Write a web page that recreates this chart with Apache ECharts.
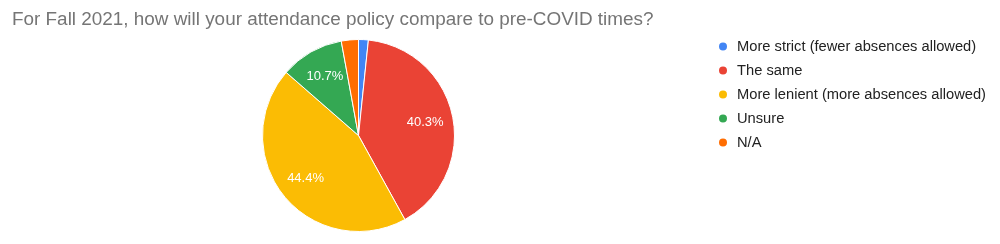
<!DOCTYPE html>
<html><head><meta charset="utf-8">
<script src="https://cdn.jsdelivr.net/npm/echarts@6/dist/echarts.min.js"></script>
<style>html,body{margin:0;padding:0;background:#fff}#c{width:1000px;height:244px}</style>
</head><body><div id="c"></div>
<script>
const titleText = "For Fall 2021, how will your attendance policy compare to pre-COVID times?";
const categories = ["More strict (fewer absences allowed)", "The same", "More lenient (more absences allowed)", "Unsure", "N/A"];
const counts = [4, 98, 108, 26, 7];
const colors = ["#4285f4", "#ea4335", "#fbbc04", "#34a853", "#ff6d01"];

const FONT = "'Liberation Sans', Arial, sans-serif";
const total = counts.reduce((a, b) => a + b, 0);
const data = categories.map((n, i) => ({ name: n, value: counts[i] }));
const chart = echarts.init(document.getElementById('c'), null, { renderer: 'canvas' });
chart.setOption({
  animation: false,
  color: colors,
  title: {
    text: titleText, left: 7, top: 5,
    textStyle: { fontFamily: FONT, fontSize: 18.9, fontWeight: 'normal', color: '#757575' }
  },
  legend: {
    orient: 'vertical', left: 712, top: 34,
    icon: 'circle', itemWidth: 10, itemHeight: 10, itemGap: 9,
    data: categories,
    textStyle: { fontFamily: FONT, fontSize: 14.7, color: '#222', padding: [0, 0, 0, 4] }
  },
  series: [
    {
      type: 'pie', center: [358.5, 135.5], radius: [0, 96],
      startAngle: 90, clockwise: true,
      data: data,
      itemStyle: { borderColor: '#fff', borderWidth: 1 },
      label: { show: false }, labelLine: { show: false },
      emphasis: { disabled: true }
    },
    {
      type: 'pie', center: [358.5, 135.5], radius: [34, 96],
      startAngle: 90, clockwise: true, silent: true,
      data: data,
      itemStyle: { color: 'rgba(0,0,0,0)', borderWidth: 0 },
      label: {
        show: true, position: 'inside', color: '#fff',
        fontFamily: FONT, fontSize: 13,
        formatter: p => (p.value / total >= 0.05 ? (p.value / total * 100).toFixed(1) + '%' : '')
      },
      labelLine: { show: false },
      emphasis: { disabled: true },
      legendHoverLink: false
    }
  ]
});
</script></body></html>
